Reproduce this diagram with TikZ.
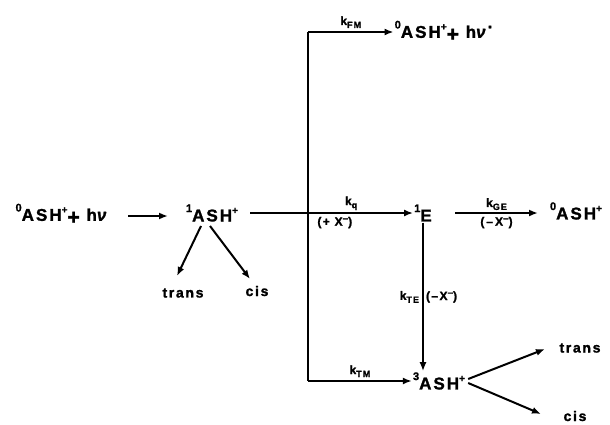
\documentclass[tikz,border=0pt]{standalone}
\usepackage{fontspec}
\setmainfont{Liberation Sans}[LetterSpace=12, FakeBold=1.5]
\usetikzlibrary{arrows.meta}
\newcommand{\upi}[1]{\raisebox{0.55em}{\fontsize{11}{11}\selectfont #1}}
\newcommand{\upc}[1]{\raisebox{0.45em}{\fontsize{10}{10}\selectfont #1}}
\newcommand{\ksub}[1]{k\raisebox{-0.25em}{\fontsize{9}{9}\selectfont #1}}
\newcommand{\Xm}{X\raisebox{0.35em}{\fontsize{10}{10}\selectfont\textendash}}
\newcommand{\bigplus}{\raisebox{-0.2em}{\fontsize{21}{21}\selectfont +}}
\begin{document}
\begin{tikzpicture}[x=1pt,y=-1pt,
  chem/.style={font=\fontsize{17}{20}\selectfont\bfseries, inner sep=1pt},
  small/.style={font=\fontsize{14}{16}\selectfont\bfseries, inner sep=1pt},
  lab/.style={font=\fontsize{12}{14}\selectfont\bfseries, inner sep=1pt},
  arr/.style={line width=2pt, -{Latex[length=9pt,width=7pt]}},
  ln/.style={line width=2pt}]
\useasboundingbox (0,0) rectangle (610,425);
% nodes
\node[chem] (n0) at (62,214) {\upi{0}ASH\upc{+}\bigplus{} h\textit{ν}};
\node[chem] (n1) at (212,213) {\upi{1}ASH\upc{+}};
\node[small] (t1) at (183,293) {trans};
\node[small] (c1) at (257,291) {cis};
\node[chem] (E) at (423,213) {\upi{1}E};
\node[chem] (top) at (444,31) {\upi{0}ASH\upc{+}\bigplus{} h\textit{ν}\raisebox{0.3em}{·}};
\node[chem] (g) at (576,211) {\upi{0}ASH\upc{+}};
\node[chem] (T) at (439,381) {\upi{3}ASH\upc{+}};
\node[small] (t2) at (580,348) {trans};
\node[small] (c2) at (575,416) {cis};
% junction coordinates
\coordinate (jt) at (308,32);
\coordinate (jb) at (308,381);
\coordinate (a1) at (250,213);
% connectors
\draw[arr] (128,216) -- (168,216);
\draw[arr] (201,226) -- (177,276);
\draw[arr] (210,226) -- (250,279);
\draw[arr] (a1) -- (E.west) node[lab, pos=0.62, above=1pt] {\ksub{q}} node[lab, pos=0.52, below=2pt] {(+ \Xm)};
\draw[ln] (jt) -- (jb);
\draw[arr] (jt) -- (jt -| top.west) node[lab, midway, above=2pt] {\ksub{FM}};
\draw[arr] (jb) -- (T.west) node[lab, midway, above=2pt] {\ksub{TM}};
\draw[arr] (455,213) -- (538,213) node[lab, midway, above=1pt] {\ksub{GE}} node[lab, midway, below=2pt] {(\,\textendash\,\Xm)};
\draw[arr] (E.south) -- (T.north -| E.south) node[lab, midway, left=2pt] {\ksub{TE}} node[lab, midway, right=1pt] {(\textendash\Xm)};
\draw[arr] (T.east) ++(2,-2) -- (545,349);
\draw[arr] (T.east) ++(2,2) -- (541,414);
\end{tikzpicture}
\end{document}
